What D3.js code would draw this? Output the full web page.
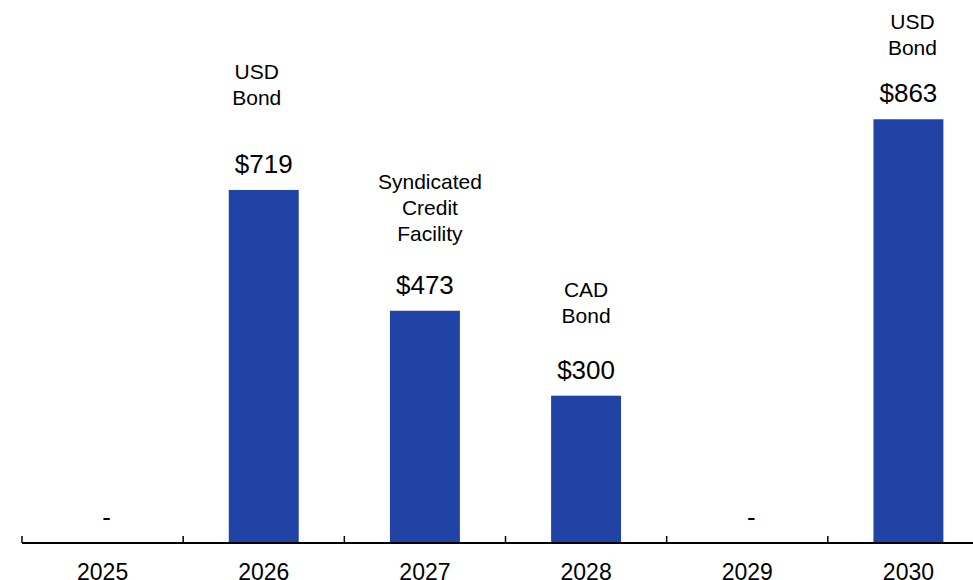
<!DOCTYPE html>
<html>
<head>
<meta charset="utf-8">
<script src="https://cdn.jsdelivr.net/npm/d3@7"></script>
<style>
  html, body { margin: 0; padding: 0; background: #fff; }
  svg { display: block; font-family: "Liberation Sans", Arial, sans-serif; }
</style>
</head>
<body>
<svg id="chart" width="973" height="580"></svg>
<script>
// ---- data ----
const years = ["2025", "2026", "2027", "2028", "2029", "2030"];
const values = [0, 719, 473, 300, 0, 863];
const valueLabels = ["-", "$719", "$473", "$300", "-", "$863"];
const facilityLabels = [[], ["USD", "Bond"], ["Syndicated", "Credit", "Facility"], ["CAD", "Bond"], [], ["USD", "Bond"]];

// ---- layout (pixels) ----
const W = 973, H = 580;
const baseY = 543;
const labelGap = [0, 68, 53, 56, 0, 47];   // value baseline -> last label line baseline
const labelDx = [0, -7, 5, 0, 0, 4];
const valueDx = [4, 0, 0, 0, 4, 0];
const lineH = 26;
const barColor = "#2143a5";

const svg = d3.select("#chart");

const x = d3.scaleBand().domain(years).range([22, 989]).paddingInner(0.566).paddingOuter(0.283);
const xCell = d3.scaleBand().domain(years).range([22, 989]).padding(0);
const y = d3.scaleLinear().domain([0, 1000]).range([baseY, baseY - 491]);

// bars
svg.append("g").selectAll("rect")
  .data(years.map((d, i) => ({ year: d, v: values[i] })).filter(d => d.v > 0))
  .join("rect")
  .attr("x", d => x(d.year))
  .attr("width", x.bandwidth())
  .attr("y", d => y(d.v))
  .attr("height", d => y(0) - y(d.v))
  .attr("fill", barColor);

// value labels
svg.append("g").selectAll("text")
  .data(years.map((d, i) => ({ year: d, v: values[i], lab: valueLabels[i], i })))
  .join("text")
  .attr("x", d => x(d.year) + x.bandwidth() / 2 + valueDx[d.i])
  .attr("y", d => y(d.v) - 17)
  .attr("text-anchor", "middle")
  .attr("font-size", 26)
  .attr("fill", "#000")
  .text(d => d.lab);

// facility labels
years.forEach((yr, i) => {
  const lines = facilityLabels[i];
  if (!lines.length) return;
  const lastBase = y(values[i]) - 17 - labelGap[i];
  const t = svg.append("text")
    .attr("text-anchor", "middle")
    .attr("font-size", 21)
    .attr("fill", "#000");
  lines.forEach((ln, k) => {
    t.append("tspan")
      .attr("x", x(yr) + x.bandwidth() / 2 + labelDx[i])
      .attr("y", lastBase - (lines.length - 1 - k) * lineH)
      .text(ln);
  });
});

// axis line
svg.append("line")
  .attr("x1", 22).attr("x2", W)
  .attr("y1", baseY).attr("y2", baseY)
  .attr("stroke", "#000").attr("stroke-width", 2);

// ticks at category boundaries
svg.append("g").selectAll("line")
  .data(years)
  .join("line")
  .attr("x1", d => xCell(d)).attr("x2", d => xCell(d))
  .attr("y1", baseY).attr("y2", baseY - 7)
  .attr("stroke", "#000").attr("stroke-width", 1.5);

// year labels
const axis = d3.axisBottom(xCell).tickSize(0).tickPadding(0);
const gAxis = svg.append("g").attr("transform", `translate(0,${baseY})`).call(axis);
gAxis.select(".domain").remove();
gAxis.selectAll("text")
  .attr("font-size", 23)
  .attr("font-family", "Liberation Sans, Arial, sans-serif")
  .attr("fill", "#000")
  .attr("dy", null)
  .attr("y", 37);
</script>
</body>
</html>
